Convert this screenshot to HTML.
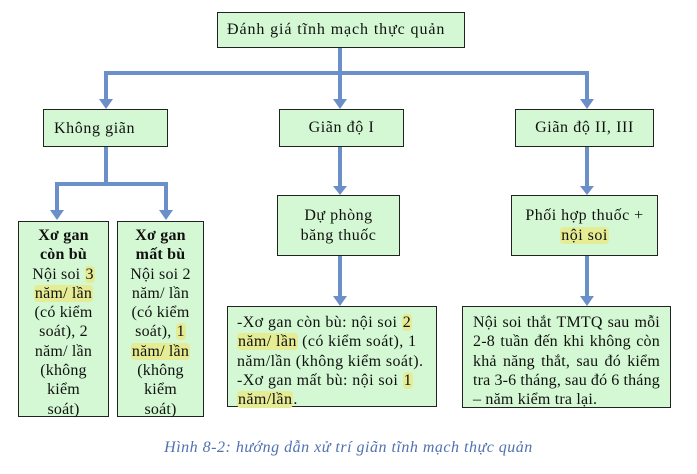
<!DOCTYPE html>
<html><head><meta charset="utf-8"><style>
body{margin:0;width:697px;height:474px;background:#fff;position:relative;overflow:hidden;font-family:"Liberation Serif",serif;color:#111}
.b{position:absolute;background:#d3f8d3;border:1.5px solid #222;box-sizing:border-box;font-size:16px;line-height:19.3px;letter-spacing:0.2px}
.c{display:flex;align-items:center;justify-content:center;text-align:center}
.h{background:#e6ec93;border-radius:4px;padding:0 1px}
svg{position:absolute;left:0;top:0}
.j{display:flex;justify-content:space-between;white-space:nowrap}
</style></head><body>
<svg width="697" height="474">
<g stroke="#6b8fc9" stroke-width="4" fill="none">
<path d="M340 47 V73 M106 102 V73 H587 V102 M340 73 V102"/>
<path d="M106 146 V184 M57 212 V184 H166 V212"/>
<path d="M340 146 V188 M340 256 V298"/>
<path d="M587 146 V188 M587 256 V298"/>
</g>
<g fill="#6b8fc9">
<path d="M99 99 L113 99 L106 109Z"/><path d="M333 99 L347 99 L340 109Z"/><path d="M580 99 L594 99 L587 109Z"/>
<path d="M50 210 L64 210 L57 220Z"/><path d="M159 210 L173 210 L166 220Z"/>
<path d="M333 186 L347 186 L340 195Z"/><path d="M580 186 L594 186 L587 195Z"/>
<path d="M333 296 L347 296 L340 306Z"/><path d="M580 296 L594 296 L587 306Z"/>
</g>
</svg>
<div class="b" style="left:217px;top:12px;width:248px;height:36px;padding:7px 0 0 9px;letter-spacing:0.9px">Đánh giá tĩnh mạch thực quản</div>
<div class="b" style="left:43px;top:109px;width:125px;height:38px;padding:9px 0 0 10px;letter-spacing:0.6px">Không giãn</div>
<div class="b c" style="left:279px;top:109px;width:125px;height:38px;letter-spacing:0.6px">Giãn độ I</div>
<div class="b c" style="left:515px;top:109px;width:139px;height:38px;letter-spacing:0.6px">Giãn độ II, III</div>
<div class="b" style="left:18px;top:221px;width:91px;height:196px;text-align:center;padding-top:4px"><b>Xơ gan<br>còn bù</b><br>Nội soi <span class="h">3</span><br><span class="h">năm/ lần</span><br>(có kiểm<br>soát), 2<br>năm/ lần<br>(không<br>kiểm<br>soát)</div>
<div class="b" style="left:117px;top:221px;width:87px;height:196px;text-align:center;padding-top:4px"><b>Xơ gan<br>mất bù</b><br>Nội soi 2<br>năm/ lần<br>(có kiểm<br>soát), <span class="h">1</span><br><span class="h">năm/ lần</span><br>(không<br>kiểm<br>soát)</div>
<div class="b c" style="left:277px;top:195px;width:123px;height:61px;letter-spacing:0.5px">Dự phòng<br>băng thuốc</div>
<div class="b c" style="left:511px;top:195px;width:147px;height:61px;letter-spacing:0.5px"><div>Phối hợp thuốc +<br><span class="h">nội soi</span></div></div>
<div class="b" style="left:227px;top:306px;width:210px;height:101px;padding:6px 0 0 9px;letter-spacing:0.4px">-Xơ gan còn bù: nội soi <span class="h">2</span><br><span class="h">năm/ lần</span> (có kiểm soát), 1<br>năm/lần (không kiểm soát).<br>-Xơ gan mất bù: nội soi <span class="h">1</span><br><span class="h">năm/lần</span>.</div>
<div class="b" style="left:462px;top:306px;width:209px;height:102px;padding:6px 10px 0 10px">
<div class="j"><span>Nội</span><span>soi</span><span>thắt</span><span>TMTQ</span><span>sau</span><span>mỗi</span></div>
<div class="j"><span>2-8</span><span>tuần</span><span>đến</span><span>khi</span><span>không</span><span>còn</span></div>
<div class="j"><span>khả</span><span>năng</span><span>thắt,</span><span>sau</span><span>đó</span><span>kiểm</span></div>
<div class="j"><span>tra</span><span>3-6</span><span>tháng,</span><span>sau</span><span>đó</span><span>6</span><span>tháng</span></div>
<div>– năm kiểm tra lại.</div>
</div>
<div style="position:absolute;left:0;width:697px;top:439px;text-align:center;font-style:italic;color:#4f72b0;font-size:16px;letter-spacing:0.5px">Hình 8-2: hướng dẫn xử trí giãn tĩnh mạch thực quản</div>
</body></html>
